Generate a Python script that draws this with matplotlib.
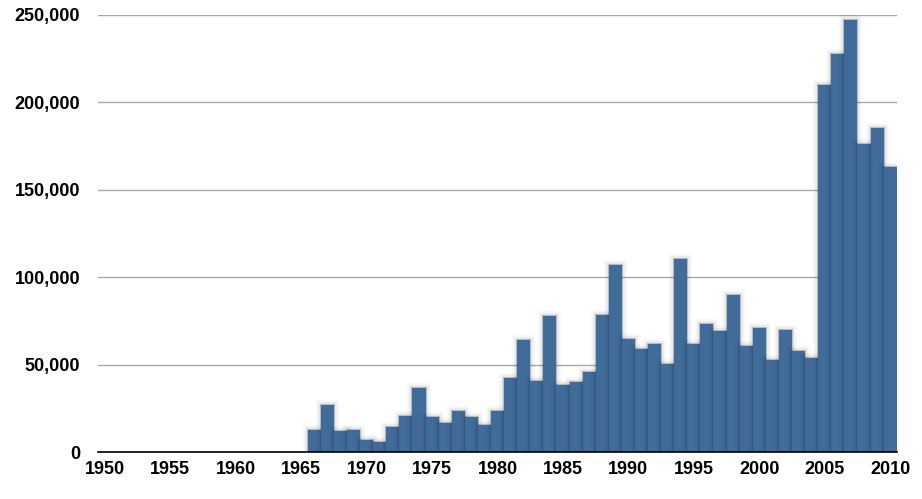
import matplotlib.pyplot as plt
import matplotlib.patheffects as pe
from matplotlib.ticker import FuncFormatter

# years on the axis, 1950..2010; bars only from 1966
years = list(range(1950, 2011))
bar_years = list(range(1966, 2011))
values = [12900, 27000, 12300, 12900, 7200, 6100, 14500, 20700, 36700, 20200,
          16700, 23600, 20200, 15600, 23600, 42500, 64300, 40700, 77900, 38500,
          40200, 45900, 78500, 107000, 64700, 59200, 61900, 50300, 110500, 61900,
          73300, 69400, 89900, 60700, 71000, 52700, 69900, 57900, 53900, 209900,
          227600, 247000, 176200, 185300, 163000]
year_ticks = list(range(1950, 2011, 5))
y_ticks = [0, 50000, 100000, 150000, 200000, 250000]

plt.rcParams['font.family'] = ['Liberation Sans', 'DejaVu Sans']

fig = plt.figure(figsize=(9.22, 4.99), dpi=100)
ax = fig.add_axes([0.1066, 0.0936, 0.866, 0.8764])

pos = [y - years[0] for y in bar_years]
bars = ax.bar(pos, values, width=1.0, color='#416c9a', linewidth=0, zorder=3)
# soft glow round each bar, like the original's drop shadow
for b in bars:
    b.set_path_effects([pe.Stroke(linewidth=7, foreground='black', alpha=0.03),
                        pe.Stroke(linewidth=4, foreground='black', alpha=0.05),
                        pe.Stroke(linewidth=1.5, foreground='#1e3550', alpha=0.25),
                        pe.Normal()])

ax.set_xlim(-0.5, len(years) - 0.5)
ax.set_ylim(0, 250000)
ax.set_xticks([y - years[0] for y in year_ticks])
ax.set_xticklabels([str(y) for y in year_ticks])
ax.set_yticks(y_ticks)
ax.yaxis.set_major_formatter(FuncFormatter(lambda v, p: f'{int(v):,}'))

ax.grid(axis='y', color='#a8a8a8', linewidth=1.0, zorder=0)
ax.tick_params(length=0, labelsize=13)
ax.tick_params(axis='y', pad=13)
ax.tick_params(axis='x', pad=6)
for lab in ax.get_xticklabels() + ax.get_yticklabels():
    lab.set_fontweight('bold')

for s in ['top', 'right', 'left']:
    ax.spines[s].set_visible(False)
ax.spines['bottom'].set_color('black')
ax.spines['bottom'].set_linewidth(1.2)
ax.spines['bottom'].set_zorder(4)

fig.savefig('out.png', dpi=100)
